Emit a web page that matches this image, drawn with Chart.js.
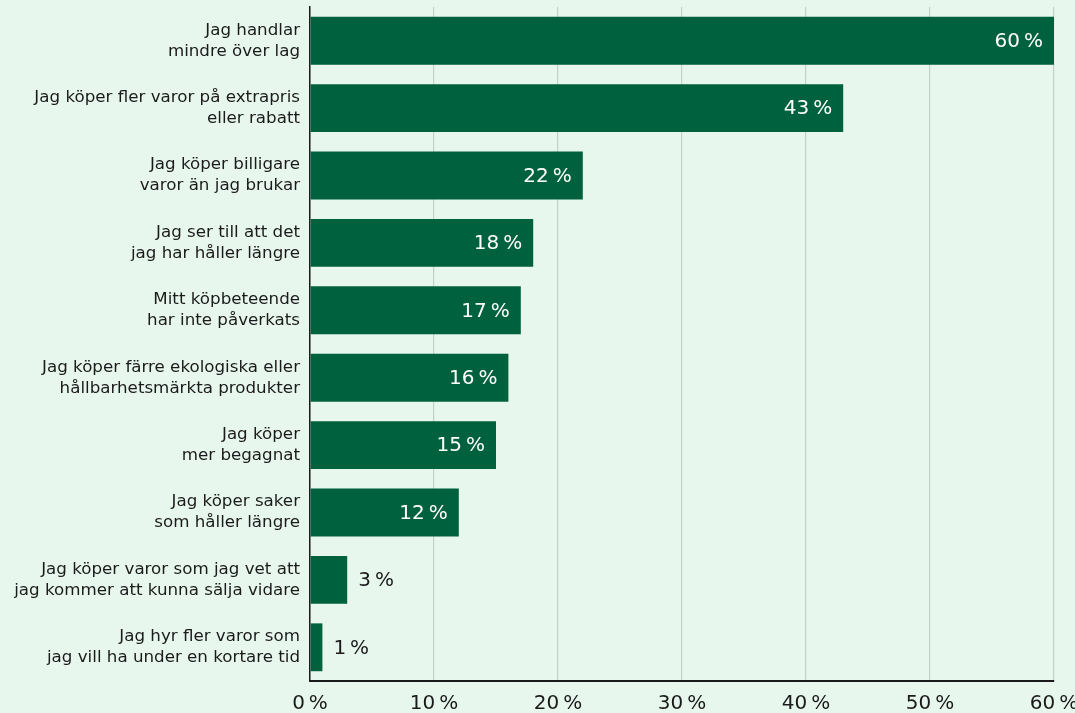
<!DOCTYPE html>
<html lang="sv">
<head>
<meta charset="utf-8">
<title>Förändrat köpbeteende</title>
<script src="https://cdn.jsdelivr.net/npm/chart.js@4/dist/chart.umd.min.js"></script>
<style>
  html, body { margin: 0; padding: 0; background: #e7f7ee; }
  #wrap { position: relative; width: 1075px; height: 713px; }
</style>
</head>
<body>
<div id="wrap"><canvas id="chartKop"></canvas></div>
<script>
// Svarsalternativ (två rader per etikett)
const kategorier = [
  ["Jag handlar", "mindre över lag"],
  ["Jag köper fler varor på extrapris", "eller rabatt"],
  ["Jag köper billigare", "varor än jag brukar"],
  ["Jag ser till att det", "jag har håller längre"],
  ["Mitt köpbeteende", "har inte påverkats"],
  ["Jag köper färre ekologiska eller", "hållbarhetsmärkta produkter"],
  ["Jag köper", "mer begagnat"],
  ["Jag köper saker", "som håller längre"],
  ["Jag köper varor som jag vet att", "jag kommer att kunna sälja vidare"],
  ["Jag hyr fler varor som", "jag vill ha under en kortare tid"]
];
// Andel svarande, procent
const andelar = [60, 43, 22, 18, 17, 16, 15, 12, 3, 1];
// x-axelns skala
const xTicks = [0, 10, 20, 30, 40, 50, 60];

const GRON = "#00613f";
const TEXT = "#1b1b1b";
const FONT = "'DejaVu Sans', sans-serif";
const pct = v => v + "\u2009%";

// Etiketter med värdet: vita inne i stapeln, mörka utanför om stapeln är för kort
const vardeEtiketter = {
  id: "vardeEtiketter",
  afterDatasetsDraw(chart) {
    const ctx = chart.ctx;
    const meta = chart.getDatasetMeta(0);
    ctx.save();
    ctx.font = "20px " + FONT;
    ctx.textBaseline = "middle";
    meta.data.forEach((bar, i) => {
      const txt = pct(andelar[i]);
      const w = ctx.measureText(txt).width;
      const bredd = bar.x - bar.base;
      if (bredd > w + 20) {
        ctx.fillStyle = "#ffffff";
        ctx.textAlign = "right";
        ctx.fillText(txt, bar.x - 11, bar.y + 1);
      } else {
        ctx.fillStyle = TEXT;
        ctx.textAlign = "left";
        ctx.fillText(txt, bar.x + 11, bar.y + 1);
      }
    });
    ctx.restore();
  }
};

new Chart(document.getElementById("chartKop"), {
  type: "bar",
  data: {
    labels: kategorier,
    datasets: [{
      data: andelar,
      backgroundColor: GRON,
      barPercentage: 0.71,
      categoryPercentage: 1
    }]
  },
  options: {
    indexAxis: "y",
    responsive: true,
    maintainAspectRatio: false,
    animation: false,
    layout: { padding: { top: 7, right: 21, left: 0, bottom: 0 } },
    plugins: {
      legend: { display: false },
      tooltip: { enabled: false }
    },
    scales: {
      x: {
        min: xTicks[0],
        max: xTicks[xTicks.length - 1],
        afterBuildTicks: s => { s.ticks = xTicks.map(v => ({ value: v })); },
        afterFit: s => { s.height = 32; s.paddingLeft = 0; s.paddingRight = 0; },
        grid: { color: "#c3d2c9", lineWidth: 1.2, drawTicks: false },
        border: { color: TEXT, width: 2 },
        ticks: {
          padding: 11,
          color: TEXT,
          font: { family: FONT, size: 20 },
          callback: v => pct(v)
        }
      },
      y: {
        afterFit: s => { s.width = 310; s.paddingTop = 0; s.paddingBottom = 0; },
        grid: { display: false, drawTicks: false },
        border: { color: TEXT, width: 1.5 },
        ticks: {
          padding: 10,
          color: TEXT,
          font: { family: FONT, size: 16.7, lineHeight: 1.26 }
        }
      }
    }
  },
  plugins: [vardeEtiketter]
});
</script>
</body>
</html>
